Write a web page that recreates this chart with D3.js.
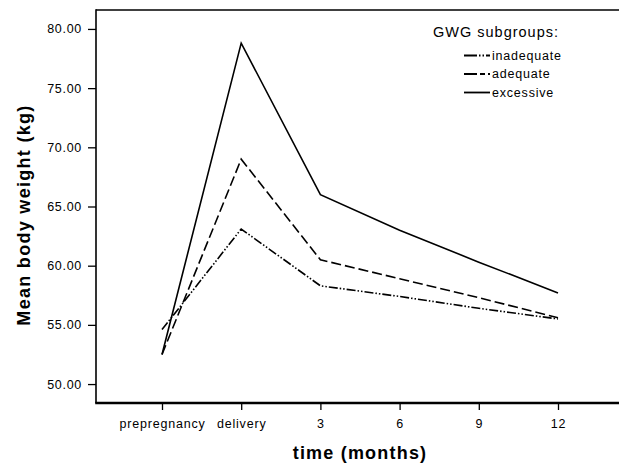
<!DOCTYPE html>
<html><head><meta charset="utf-8">
<script src="https://cdn.jsdelivr.net/npm/d3@7"></script>
<style>
html,body{margin:0;padding:0;background:#fff;}
svg{display:block;font-family:"Liberation Sans",Arial,sans-serif;}
</style></head>
<body>
<svg id="chart" width="619" height="467"></svg>
<script>
const categories = ["prepregnancy","delivery","3","6","9","12"];
const inadequate = [54.6, 63.1, 58.3, 57.4, 56.4, 55.5];
const adequate   = [52.5, 69.0, 60.5, 58.9, 57.3, 55.6];
const excessive  = [52.5, 78.8, 66.0, 63.0, 60.3, 57.7];
const seriesNames = ["inadequate","adequate","excessive"];
const yTicks = [50, 55, 60, 65, 70, 75, 80];
const legendTitle = "GWG subgroups:";
const xTitle = "time (months)";
const yTitle = "Mean body weight (kg)";

(function(){
const dashes = {inadequate:"9,2,1.5,2,1.5,2", adequate:"10,4", excessive:null};
const seriesData = {inadequate, adequate, excessive};

const svg = d3.select("#chart");
const mL = 96, mT = 10, mB = 403, mR = 619;
const x = d3.scalePoint().domain(categories).range([162, 558]);
const y = d3.scaleLinear().domain([48.4, 81.6]).range([mB, mT]);

// frame top line
svg.append("line").attr("x1",mL).attr("x2",mR).attr("y1",mT).attr("y2",mT)
  .attr("stroke","#000").attr("stroke-width",1.5);

// y axis
const yAxis = svg.append("g").attr("transform",`translate(${mL},0)`)
  .call(d3.axisLeft(y).tickValues(yTicks).tickFormat(d3.format(".2f")).tickSize(8).tickPadding(6));
yAxis.select(".domain").remove();
yAxis.selectAll(".tick line").attr("stroke","#000").attr("stroke-width",1.3);
yAxis.selectAll(".tick text").attr("font-size",12.5).attr("fill","#000")
  .attr("font-family","Liberation Sans, Arial, sans-serif").style("letter-spacing","0.7px");
svg.append("line").attr("x1",mL).attr("x2",mL).attr("y1",mT-0.75).attr("y2",mB)
  .attr("stroke","#000").attr("stroke-width",1.6);

// x axis
const xAxis = svg.append("g").attr("transform",`translate(0,${mB})`)
  .call(d3.axisBottom(x).tickSize(7).tickPadding(9));
xAxis.select(".domain").remove();
xAxis.selectAll(".tick line").attr("stroke","#000").attr("stroke-width",1.3);
xAxis.selectAll(".tick text").attr("font-size",12.5).attr("fill","#000")
  .attr("font-family","Liberation Sans, Arial, sans-serif").style("letter-spacing","0.8px");
svg.append("line").attr("x1",mL-0.8).attr("x2",mR).attr("y1",mB).attr("y2",mB)
  .attr("stroke","#000").attr("stroke-width",2.6);

// lines
const line = d3.line().x((d,i)=>x(categories[i])).y(d=>y(d));
seriesNames.forEach(n=>{
  svg.append("path").datum(seriesData[n]).attr("d",line)
    .attr("fill","none").attr("stroke","#000").attr("stroke-width",1.6)
    .attr("stroke-dasharray",dashes[n]);
});

// legend
svg.append("text").attr("x",433).attr("y",37).text(legendTitle)
  .attr("font-size",14.5).style("letter-spacing","1px").attr("fill","#000");
const ly = [55.5, 74, 92.5];
seriesNames.forEach((n,i)=>{
  svg.append("line").attr("x1",464).attr("x2",490).attr("y1",ly[i]).attr("y2",ly[i])
    .attr("stroke","#000").attr("stroke-width",1.8).attr("stroke-dasharray",
      n==="inadequate" ? "13,2,1.5,2,1.5,2" : n==="adequate" ? "13,3,5,3" : null);
  svg.append("text").attr("x",492).attr("y",ly[i]+4).text(n)
    .attr("font-size",12.5).style("letter-spacing","0.8px").attr("fill","#000");
});

// axis titles
svg.append("text").attr("x",360).attr("y",459).attr("text-anchor","middle")
  .attr("font-weight","bold").attr("font-size",18).style("letter-spacing","1.2px").text(xTitle);
svg.append("text").attr("transform","translate(30,215) rotate(-90)").attr("text-anchor","middle")
  .attr("font-weight","bold").attr("font-size",18).style("letter-spacing","1.3px").text(yTitle);
})();
</script>
</body></html>
